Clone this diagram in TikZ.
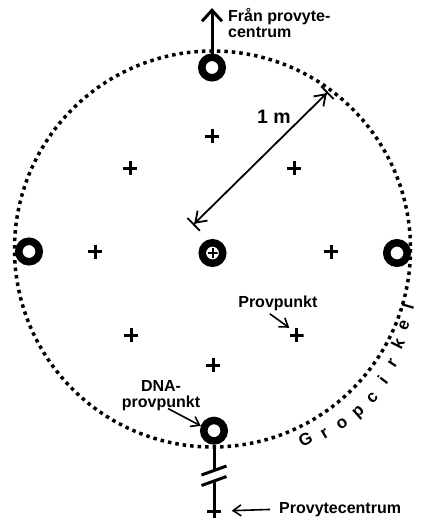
\documentclass[tikz,border=0pt]{standalone}
\usepackage{fontspec}
\setmainfont{Liberation Sans}
\usetikzlibrary{arrows.meta}
\begin{document}
\begin{tikzpicture}[x=1pt,y=-1pt,
  ring/.style={circle, draw, line width=7.5pt, minimum size=20.5pt, inner sep=0pt},
  plus/.style={minimum size=14pt, inner sep=0pt,
    path picture={\draw[line width=3pt] (path picture bounding box.north) -- (path picture bounding box.south)
      (path picture bounding box.west) -- (path picture bounding box.east);}},
  smallplus/.style={minimum size=10pt, inner sep=0pt,
    path picture={\draw[line width=2pt] (path picture bounding box.north) -- (path picture bounding box.south)
      (path picture bounding box.west) -- (path picture bounding box.east);}},
  lbl/.style={font=\fontsize{16}{16}\selectfont\bfseries},
  letter/.style={font=\fontsize{17}{17}\selectfont\bfseries, inner sep=0pt},
  thinarrow/.style={line width=1.6pt, -{Straight Barb[length=8pt,width=11pt]}},
  thickline/.style={line width=3pt}
]
\useasboundingbox (0,0) rectangle (423,520);

% dotted pit circle
\draw[line width=3.5pt, dash pattern=on 3.5pt off 4pt] (212.5,249) circle[radius=198];

% rings
\node[ring] (rT) at (212,67.5) {};
\node[ring] (rL) at (29,251.5) {};
\node[ring] (rR) at (397,253) {};
\node[ring] (rB) at (214,430.7) {};
\node[ring] (rC) at (212.5,253) {};
\node[smallplus] (pC) at (212.5,253) {};

% sample points
\node[plus] (p1) at (212,136) {};
\node[plus] (p2) at (294,168) {};
\node[plus] (p3) at (130,168) {};
\node[plus] (p4) at (95,251.5) {};
\node[plus] (p5) at (331,251.5) {};
\node[plus] (p6) at (131,335) {};
\node[plus] (p7) at (296.5,335) {};
\node[plus] (p8) at (213,365) {};
\node[plus] (pBot) at (214,511) {};

% top arrow
\coordinate (topTip) at (212,8);
\draw[thickline, -{Straight Barb[length=11pt,width=20pt,line width=3pt]}] (rT.north) -- (topTip);
\node[lbl, anchor=base west, align=left, inner sep=0pt] (lblF) at (228,37) {Från provyte-\\centrum};

% 1 m dimension arrow
\coordinate (m1) at (193,225);
\coordinate (m2) at (328,92);
\draw[line width=1.8pt, {Bar[width=18pt]Straight Barb[length=10pt,width=14pt]}-{Straight Barb[length=10pt,width=14pt]Bar[width=18pt]}] (m1) -- (m2);
\node[font=\fontsize{19.5}{19.5}\selectfont\bfseries, anchor=base west, inner sep=0pt] (lblM) at (257,123) {1 m};

% Provpunkt
\node[lbl, anchor=base east] (lblP) at (321,307) {Provpunkt};
\draw[thinarrow] ([xshift=-8pt]lblP.south) -- (p7.north west);

% DNA-provpunkt
\node[lbl, align=center, anchor=base, inner sep=0pt] (lblD) at (161,407) {DNA-\\provpunkt};
\draw[thinarrow] ([xshift=7pt,yshift=2pt]lblD.south) -- (rB.160);

% bottom line with break
\coordinate (b1) at (214,470.5);
\coordinate (b2) at (214,481);
\coordinate (s1a) at (201.5,475);
\coordinate (s1b) at (226.5,466);
\coordinate (s2a) at (201.5,485.5);
\coordinate (s2b) at (226.5,476.5);
\draw[thickline] (rB.south) -- (b1);
\draw[thickline] (b2) -- (pBot.center);
\draw[thickline] (s1a) -- (s1b);
\draw[thickline] (s2a) -- (s2b);

% Provytecentrum
\node[lbl, anchor=base west, inner sep=0pt] (lblC) at (279,513) {Provytecentrum};
\draw[thinarrow, shorten <=9pt, shorten >=10.5pt] (lblC.west) -- (pBot.east);

% Gropcirkel along the circle
\foreach \l/\a/\r [count=\i] in {G/-64/218, r/-58.7/221, o/-53.4/222, p/-48.2/223, c/-42.9/223, i/-37.6/221, r/-32.3/218, k/-27.0/214, e/-21.8/211, l/-16.5/210} {
  \node[letter, rotate=\a+90, anchor=base] (g\i) at ({212.5+\r*cos(\a)},{249-\r*sin(\a)}) {\l};
}
\end{tikzpicture}
\end{document}
